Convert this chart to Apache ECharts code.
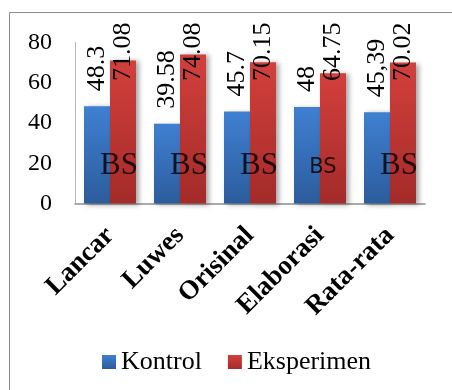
<!DOCTYPE html>
<html>
<head>
<meta charset="utf-8">
<script src="https://cdn.jsdelivr.net/npm/echarts@6/dist/echarts.min.js"></script>
<style>
  html, body { margin: 0; padding: 0; background: #fff; }
  #chart { width: 452px; height: 390px; }
</style>
</head>
<body>
<div id="chart"></div>
<script>
// Skor kemampuan berpikir kreatif per aspek
const categories = ['Lancar', 'Luwes', 'Orisinal', 'Elaborasi', 'Rata-rata'];
const kontrol = [48.3, 39.58, 45.7, 48, 45.39];
const eksperimen = [71.08, 74.08, 70.15, 64.75, 70.02];
const kontrolText = ['48.3', '39.58', '45.7', '48', '45,39'];
const eksperimenText = ['71.08', '74.08', '70.15', '64.75', '70.02'];
const bsText = ['BS', 'BS', 'BS', 'BS', 'BS'];
const bsLevel = [19, 19, 19, 19, 19];
const yTicks = [0, 20, 40, 60, 80];

const serif = '"Liberation Serif", "Times New Roman", serif';

function grad(top, bottom) {
  return new echarts.graphic.LinearGradient(0, 0, 0, 1, [
    { offset: 0, color: top },
    { offset: 1, color: bottom }
  ]);
}

const barShadow = {
  shadowColor: 'rgba(0,0,0,0.35)',
  shadowBlur: 5,
  shadowOffsetX: 3,
  shadowOffsetY: 1
};

const chart = echarts.init(document.getElementById('chart'), null, { renderer: 'canvas' });

const option = {
  animation: false,
  backgroundColor: '#fff',
  graphic: [{
    type: 'rect',
    shape: { x: 9.5, y: 12.5, width: 600, height: 600 },
    style: { fill: 'none', stroke: '#8c8c8c', lineWidth: 1 },
    silent: true,
    z: -1
  }],
  grid: { left: 75, right: 27, top: 42.5, bottom: 186.5 },
  legend: {
    data: ['Kontrol', 'Eksperimen'],
    left: 97,
    top: 344,
    icon: 'rect',
    itemWidth: 14,
    itemHeight: 14,
    itemGap: 26,
    textStyle: { fontFamily: serif, fontSize: 26, color: '#000' }
  },
  xAxis: {
    type: 'category',
    data: categories,
    axisLine: { show: true, lineStyle: { color: '#8f8f8f', width: 1.5 } },
    axisTick: { show: false },
    axisLabel: {
      interval: 0,
      rotate: 45,
      margin: 28,
      fontFamily: serif,
      fontWeight: 'bold',
      fontSize: 27,
      color: '#000'
    }
  },
  yAxis: {
    type: 'value',
    min: yTicks[0],
    max: yTicks[yTicks.length - 1],
    interval: yTicks[1] - yTicks[0],
    splitLine: { show: false },
    axisLine: { show: true, lineStyle: { color: '#b5b5b5', width: 1 } },
    axisTick: { show: false },
    axisLabel: { margin: 23, fontFamily: serif, fontSize: 24, color: '#000' }
  },
  series: [
    {
      name: 'Kontrol',
      type: 'bar',
      barWidth: 26,
      barGap: '0%',
      data: kontrol,
      itemStyle: Object.assign({ color: grad('#3f80d2', '#2c5c9c') }, barShadow),
      label: {
        show: true,
        position: 'top',
        distance: 15,
        rotate: 90,
        align: 'left',
        verticalAlign: 'middle',
        formatter: p => kontrolText[p.dataIndex],
        fontFamily: serif,
        fontSize: 26,
        color: '#000'
      }
    },
    {
      name: 'Eksperimen',
      type: 'bar',
      barWidth: 26,
      data: eksperimen,
      itemStyle: Object.assign({ color: grad('#d3403c', '#a32b29') }, barShadow),
      label: {
        show: true,
        position: 'top',
        distance: 0,
        rotate: 90,
        align: 'right',
        verticalAlign: 'middle',
        formatter: p => eksperimenText[p.dataIndex],
        fontFamily: serif,
        fontSize: 26,
        color: '#000'
      }
    },
    {
      name: 'BS',
      type: 'scatter',
      symbolSize: 0,
      silent: true,
      z: 5,
      data: bsLevel.map((v, i) => {
        const item = { value: v };
        if (i === 3) {
          item.label = { fontFamily: '"DejaVu Sans", sans-serif', fontSize: 21, offset: [3, 2] };
        }
        return item;
      }),
      label: {
        show: true,
        position: 'inside',
        offset: [9, 1],
        formatter: p => bsText[p.dataIndex],
        fontFamily: serif,
        fontSize: 31,
        color: '#000'
      }
    }
  ]
};

chart.setOption(option);

// Align the tops of the Eksperimen labels on one line above the plot
const yMaxPx = chart.convertToPixel({ yAxisIndex: 0 }, yTicks[yTicks.length - 1]);
const labelTopPx = yMaxPx - 20;
chart.setOption({
  series: [{}, {
    data: eksperimen.map(v => ({
      value: v,
      label: { distance: chart.convertToPixel({ yAxisIndex: 0 }, v) - labelTopPx }
    }))
  }]
});
</script>
</body>
</html>
